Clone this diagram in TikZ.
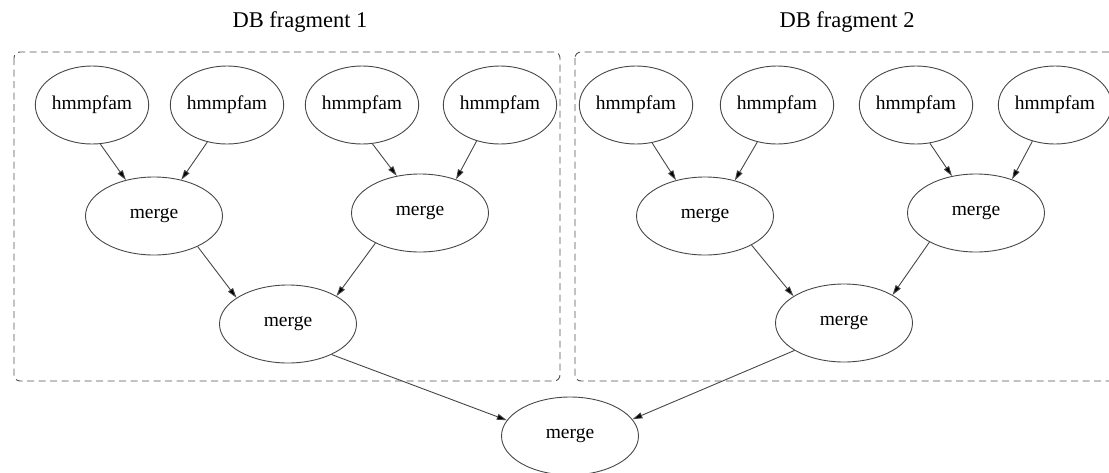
\documentclass[tikz,border=0pt]{standalone}
\usepackage{fontspec}
\setmainfont{Liberation Serif}
\usetikzlibrary{shapes.geometric,arrows.meta}

\tikzset{
  task/.style={ellipse, draw=black!72, line width=0.9pt, inner sep=0pt,
    minimum height=78pt, font=\fontsize{19.5}{22}\selectfont},
  leafnode/.style={task, minimum width=110pt},
  mergenode/.style={task, minimum width=137pt},
  flow/.style={draw=black!72, line width=0.9pt,
    -{Triangle[length=10pt,width=6pt,fill=black]}},
  fragment/.style={draw=black!68, line width=0.9pt, dash pattern=on 7pt off 4.5pt,
    rounded corners=6pt},
  fragtitle/.style={font=\fontsize{22.5}{26}\selectfont}
}

\begin{document}
\begin{tikzpicture}[x=1pt,y=-1pt]
\useasboundingbox (0,0) rectangle (1109,472);

% cluster frames and their titles
\draw[fragment] (14,52) rectangle (560,381);
\draw[fragment] (575,52) rectangle (1118,381);
\node[fragtitle] (t1) at (300,22) {DB fragment 1};
\node[fragtitle] (t2) at (847,22) {DB fragment 2};

% fragment 1
\node[leafnode] (a1) at (92,105) {hmmpfam};
\node[leafnode] (a2) at (227,105) {hmmpfam};
\node[leafnode] (a3) at (362,105) {hmmpfam};
\node[leafnode] (a4) at (500,105) {hmmpfam};
\node[mergenode] (am1) at (154,216) {merge};
\node[mergenode] (am2) at (420,213) {merge};
\node[mergenode] (am3) at (288,324) {merge};

% fragment 2
\node[leafnode] (b1) at (636,105) {hmmpfam};
\node[leafnode] (b2) at (777,105) {hmmpfam};
\node[leafnode] (b3) at (916,105) {hmmpfam};
\node[leafnode] (b4) at (1055,105) {hmmpfam};
\node[mergenode] (bm1) at (705,216) {merge};
\node[mergenode] (bm2) at (976,213) {merge};
\node[mergenode] (bm3) at (844,323) {merge};

% final merge
\node[mergenode] (top) at (570,436) {merge};

% edges of fragment 1
\draw[flow] (a1.-78)  -- (am1.128);
\draw[flow] (a2.-118) -- (am1.53);
\draw[flow] (a3.-75)  -- (am2.122);
\draw[flow] (a4.-123) -- (am2.43);
\draw[flow] (am1.-35) -- (am3.153);
\draw[flow] (am2.-146) -- (am3.30);

% edges of fragment 2
\draw[flow] (b1.-67)  -- (bm1.129);
\draw[flow] (b2.-118) -- (bm1.50);
\draw[flow] (b3.-70)  -- (bm2.123);
\draw[flow] (b4.-122) -- (bm2.43);
\draw[flow] (bm1.-32) -- (bm3.152);
\draw[flow] (bm2.-148) -- (bm3.30);

% into the final merge
\draw[flow] (am3.-35)  -- (top.166);
\draw[flow] (bm3.-151) -- (top.15);
\end{tikzpicture}
\end{document}
